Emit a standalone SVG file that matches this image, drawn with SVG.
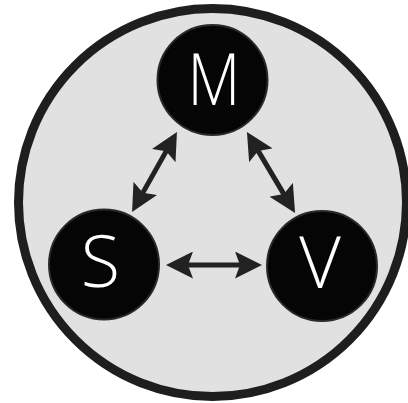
<svg xmlns="http://www.w3.org/2000/svg" width="408" height="403" viewBox="0 0 408 403">
<style>
.node{fill:#050505;stroke:#2a2a2a;stroke-width:2}
.lbl{font-family:"Open Sans","Liberation Sans",sans-serif;font-weight:300;font-size:72px;fill:#fff;text-anchor:middle}
.conn{stroke:#222;stroke-width:5;fill:none;marker-start:url(#ah);marker-end:url(#ah)}
</style>
<defs>
<marker id="ah" viewBox="0 0 27 27" refX="12" refY="13.5" markerWidth="27" markerHeight="27" markerUnits="userSpaceOnUse" orient="auto-start-reverse">
<path d="M27,13.5 L0,0 L5,13.5 L0,27 Z" fill="#222"/>
</marker>
</defs>
<circle cx="212.5" cy="202.5" r="194" fill="#e1e1e1" stroke="#1e1e1e" stroke-width="9"/>
<g id="connectors">
<path class="conn" d="M139.4,198.9 L169.6,145.1"/>
<path class="conn" d="M254.6,144.9 L287.4,200.1"/>
<path class="conn" d="M181,265 L247,265"/>
</g>
<g id="M">
<circle class="node" cx="212.5" cy="80" r="55"/>
<text class="lbl" x="214" y="105" transform="translate(214 0) scale(0.85 1) translate(-214 0)">M</text>
</g>
<g id="S">
<circle class="node" cx="104" cy="264.5" r="55"/>
<text class="lbl" x="100.5" y="287">S</text>
</g>
<g id="V">
<circle class="node" cx="322" cy="266" r="55"/>
<text class="lbl" x="320" y="288">V</text>
</g>
</svg>
